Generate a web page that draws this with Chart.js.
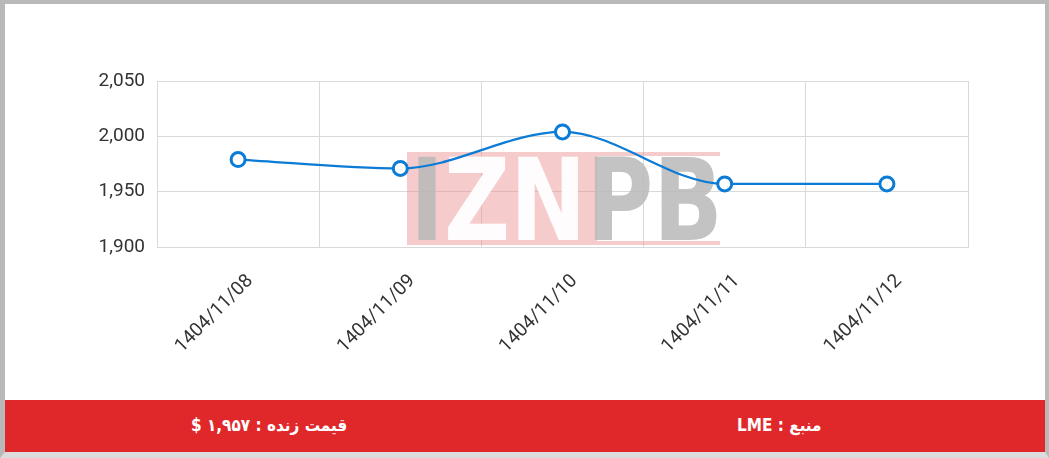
<!DOCTYPE html>
<html>
<head>
<meta charset="utf-8">
<script src="https://cdn.jsdelivr.net/npm/chart.js@4.4.1/dist/chart.umd.min.js"></script>
<style>
	html, body { margin: 0; padding: 0; }
	body {
		width: 1049px; height: 458px; overflow: hidden; position: relative;
		background: #fff; font-family: Roboto, sans-serif;
	}
	.frame {
		position: absolute; left: 0; top: 0; width: 1049px; height: 458px;
		box-sizing: border-box; border: 4px solid #b9b9b9; border-left-width: 5px;
		border-bottom: 6px solid #dcdcdc;
	}
	.chart-box { position: absolute; left: 0; top: 0; width: 1049px; height: 400px; }
	.footer {
		position: absolute; left: 5px; right: 4px; top: 400px; height: 52px;
		background: #e0282a; color: #fff; font-weight: bold; font-size: 17px;
		font-family: "DejaVu Sans Condensed", "DejaVu Sans", sans-serif;
	}
	.footer span { position: absolute; top: 15px; direction: rtl; }
</style>
</head>
<body>
<div class="frame"></div>
<div class="chart-box"><canvas id="priceChart" width="1049" height="400"></canvas></div>
<div class="footer">
	<span style="left:186px">قیمت زنده : ۱,۹۵۷ $</span>
	<span style="left:732px">منبع : LME</span>
</div>
<script>
// data
var dates = ["1404/11/08", "1404/11/09", "1404/11/10", "1404/11/11", "1404/11/12"];
var prices = [1979, 1971, 2004, 1957, 1957];
var yTicks = [1900, 1950, 2000, 2050];

// watermark behind the line
var watermark = {
	id: "watermark",
	beforeDatasetsDraw: function (chart) {
		var ctx = chart.ctx;
		ctx.save();
		ctx.fillStyle = "rgba(236,140,140,0.45)";
		ctx.fillRect(407, 152, 190, 93);
		ctx.fillRect(597, 152, 123, 4);
		ctx.fillRect(597, 241, 123, 4);
		ctx.translate(410, 240);
		ctx.scale(0.8, 1);
		ctx.font = "bold 114px 'DejaVu Sans', sans-serif";
		ctx.textBaseline = "alphabetic";
		ctx.fillStyle = "rgba(185,185,185,0.85)";
		ctx.fillText("I", 0, 0);
		var w = ctx.measureText("I").width;
		ctx.fillStyle = "rgba(255,255,255,0.95)";
		ctx.fillText("ZN", w, 0);
		w += ctx.measureText("ZN").width;
		ctx.fillStyle = "rgba(185,185,185,0.85)";
		ctx.fillText("PB", w, 0);
		ctx.restore();
	}
};

new Chart(document.getElementById("priceChart"), {
	type: "line",
	data: {
		labels: dates,
		datasets: [
			{
				data: prices,
				borderColor: "#0a7bd6",
				borderWidth: 2.2,
				cubicInterpolationMode: "monotone",
				fill: false,
				pointRadius: 7,
				pointBorderWidth: 3,
				pointBackgroundColor: "#fff",
				pointBorderColor: "#0a7bd6",
			},
		],
	},
	options: {
		responsive: false,
		animation: false,
		layout: { padding: { top: 81, right: 81, left: 0, bottom: 0 } },
		plugins: { legend: { display: false }, tooltip: { enabled: false } },
		scales: {
			x: {
				offset: true,
				grid: { color: "#d9d9d9", drawTicks: false, offset: true },
				border: { color: "#d9d9d9" },
				ticks: {
					color: "#333", font: { family: "Roboto", size: 19 },
					minRotation: 45, maxRotation: 45, padding: 23, labelOffset: 12,
				},
				afterFit: function (s) { s.height = 153; },
			},
			y: {
				min: 1900, max: 2050,
				afterBuildTicks: function (s) { s.ticks = yTicks.map(function (v) { return { value: v }; }); },
				grid: { color: "#d9d9d9", drawTicks: false },
				border: { color: "#d9d9d9" },
				ticks: {
					color: "#333", font: { family: "Roboto", size: 19 }, padding: 12,
					callback: function (v) { return v.toLocaleString("en-US"); },
				},
				afterFit: function (s) { s.width = 157; },
			},
		},
	},
	plugins: [watermark],
});
</script>
</body>
</html>
